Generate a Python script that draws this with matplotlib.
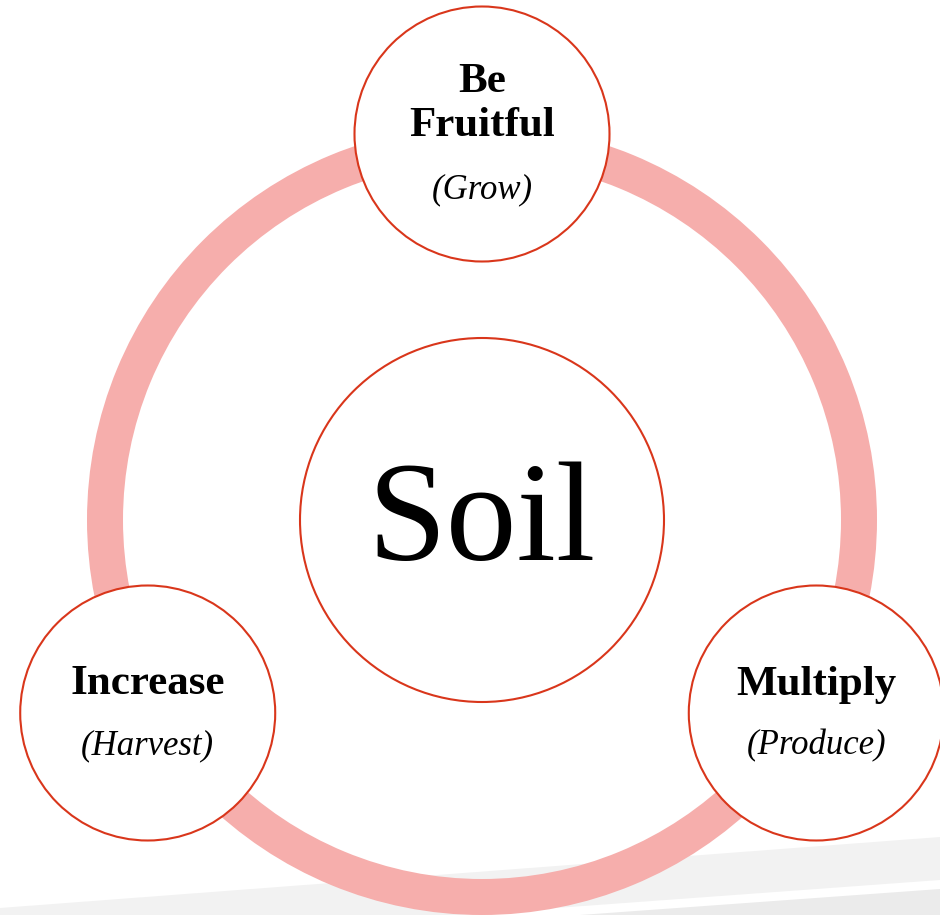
import numpy as np
import matplotlib.pyplot as plt
from matplotlib.patches import Circle, Wedge, Polygon

# diagram content
center_label = "Soil"
node_titles = ["Be\nFruitful", "Increase", "Multiply"]
node_subtitles = ["(Grow)", "(Harvest)", "(Produce)"]
node_angles = [90, 210, 330]  # degrees, counter-clockwise from east

RING = "#f6aeac"
EDGE = "#d9361b"

W, H = 940, 915
fig = plt.figure(figsize=(W / 100, H / 100), dpi=100)
ax = fig.add_axes([0, 0, 1, 1])
ax.set_xlim(0, W)
ax.set_ylim(H, 0)
ax.set_aspect("equal")
ax.axis("off")

# light grey slide decoration at the bottom
ax.add_patch(Polygon([(0, 908), (940, 837), (940, 880), (460, 915), (0, 915)],
                     closed=True, fc="#f2f2f2", ec="none", zorder=0))
ax.add_patch(Polygon([(940, 889), (580, 915), (940, 915)],
                     closed=True, fc="#ebebeb", ec="none", zorder=0))

cx, cy = 482, 520
ax.add_patch(Wedge((cx, cy), 395, 0, 360, width=36, fc=RING, ec="none", zorder=1))

ax.add_patch(Circle((cx, cy), 182, fc="white", ec=EDGE, lw=1.5, zorder=2))
ax.text(cx, 560, center_label, ha="center", va="baseline", fontsize=102,
        family="Liberation Serif", zorder=3)

r_nodes = 386
bold_kw = dict(ha="center", va="baseline", fontsize=31, fontweight="bold",
               family="Liberation Serif", zorder=3)
ital_kw = dict(ha="center", va="baseline", fontsize=25, style="italic",
               family="Liberation Serif", zorder=3)
for title, sub, ang in zip(node_titles, node_subtitles, node_angles):
    x = cx + r_nodes * np.cos(np.radians(ang))
    y = cy - r_nodes * np.sin(np.radians(ang))
    ax.add_patch(Circle((x, y), 127.5, fc="white", ec=EDGE, lw=1.5, zorder=2))
    if "\n" in title:
        top, bottom = title.split("\n")
        ax.text(x, y - 41.5, top, **bold_kw)
        ax.text(x, y + 2.5, bottom, **bold_kw)
        ax.text(x, y + 64.5, sub, **ital_kw)
    else:
        ax.text(x, y - 18.5, title, **bold_kw)
        ax.text(x, y + 41.5, sub, **ital_kw)

fig.savefig("out.png", dpi=100, facecolor="white")
